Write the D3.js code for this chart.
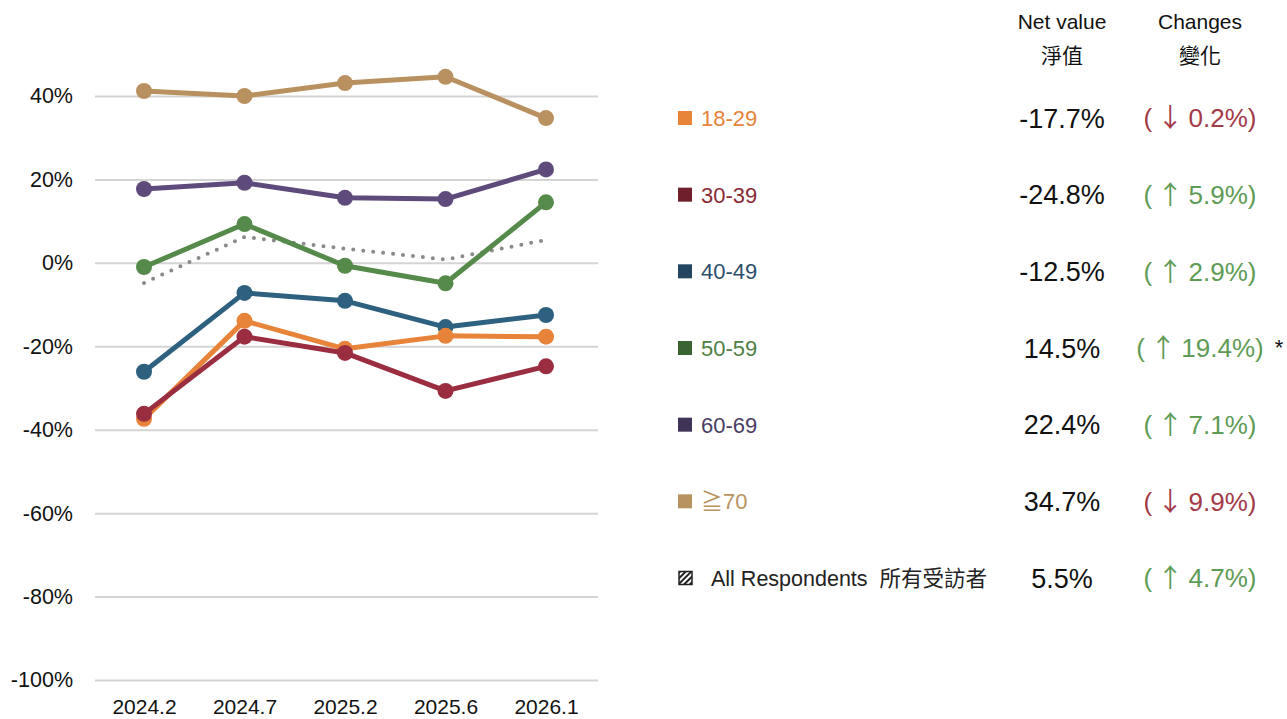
<!DOCTYPE html>
<meta charset="utf-8">
<style>
body { margin: 0; background: #fff; }
svg text { font-family: "Liberation Sans", Arial, "Noto Sans CJK TC", sans-serif; white-space: pre; }
.grid line { stroke: #d4d4d4; stroke-width: 2px; }
.grid .domain, .xaxis .domain { display: none; }
</style>
<body>
<svg width="1287" height="719"></svg>
<script src="https://d3js.org/d3.v7.min.js"></script>
<script>
var svg = d3.select("svg");

// survey waves
var periods = ["2024.2", "2024.7", "2025.2", "2025.6", "2026.1"];
var yTicks = [40, 20, 0, -20, -40, -60, -80, -100];

// net values (%) per age group
var age18 = [-37.4, -13.9, -20.6, -17.5, -17.7];
var age30 = [-36.2, -17.7, -21.6, -30.7, -24.8];
var age40 = [-26.1, -7.2, -9.1, -15.4, -12.5];
var age50 = [-1.0, 9.3, -0.7, -4.9, 14.5];
var age60 = [17.7, 19.2, 15.6, 15.3, 22.4];
var age70 = [41.2, 40.0, 43.1, 44.6, 34.7];
var allResp = [-4.8, 6.2, 3.4, 0.8, 5.5];

// legend table
var groupNames = ["18-29", "30-39", "40-49", "50-59", "60-69", "≧70"];
var netValues = ["-17.7%", "-24.8%", "-12.5%", "14.5%", "22.4%", "34.7%", "5.5%"];
var changeDir = ["down", "up", "up", "up", "up", "down", "up"];
var changeVals = ["0.2%", "5.9%", "2.9%", "19.4%", "7.1%", "9.9%", "4.7%"];

var lineColors = ["#e8833a", "#9a2e40", "#2e607f", "#558a4a", "#5f4b7b", "#b99160"];
var boxColors  = ["#e8833a", "#6e1f2a", "#23455f", "#3b6433", "#3f3357", "#b8925f"];
var textColors = ["#e8833a", "#8b2a36", "#2e4f6b", "#4f7f45", "#4a3d63", "#b8925f"];

var groups = [age18, age30, age40, age50, age60, age70];

var x = d3.scalePoint().domain(periods).range([144, 546]);
var y = d3.scaleLinear().domain([-100, 40]).range([680, 96]);

// gridlines + y labels
svg.append("g")
    .attr("class", "grid")
    .attr("transform", "translate(95,0)")
    .call(d3.axisLeft(y).tickValues(yTicks).tickSize(-503).tickPadding(22)
        .tickFormat(function(d) { return d + "%"; }))
    .selectAll("text")
    .style("font-size", "21.5px")
    .style("fill", "#111");

svg.append("g")
    .attr("class", "xaxis")
    .attr("transform", "translate(0,680)")
    .call(d3.axisBottom(x).tickSize(0).tickPadding(19))
    .selectAll("text")
    .style("font-size", "21px")
    .style("fill", "#111");

var line = d3.line()
    .x(function(d, i) { return x(periods[i]); })
    .y(function(d) { return y(d); });

// all respondents, dotted
svg.append("path")
    .attr("d", line(allResp))
    .attr("fill", "none")
    .attr("stroke", "#8a8a8a")
    .attr("stroke-width", 4)
    .attr("stroke-linecap", "round")
    .attr("stroke-dasharray", "0,10");

// draw order so 30-39 sits on top
var order = [5, 4, 3, 2, 0, 1];
order.forEach(function(gi) {
  var g = svg.append("g");
  g.append("path")
      .attr("d", line(groups[gi]))
      .attr("fill", "none")
      .attr("stroke", lineColors[gi])
      .attr("stroke-width", 5)
      .attr("stroke-linejoin", "round");
  g.selectAll("circle")
      .data(groups[gi])
      .enter().append("circle")
      .attr("cx", function(d, i) { return x(periods[i]); })
      .attr("cy", function(d) { return y(d); })
      .attr("r", 8)
      .attr("fill", lineColors[gi]);
});

// ---- legend table ----
var rowKeys = groupNames.concat(["all"]);
var row = d3.scalePoint().domain(rowKeys).range([118, 578]);

var defs = svg.append("defs");
defs.append("pattern")
    .attr("id", "hatch")
    .attr("patternUnits", "userSpaceOnUse")
    .attr("width", 4).attr("height", 4)
    .attr("patternTransform", "rotate(45)")
    .append("rect")
    .attr("width", 2).attr("height", 4)
    .attr("fill", "#222");

var head = svg.append("g").style("font-size", "21px").style("fill", "#111")
    .attr("text-anchor", "middle");
head.append("text").attr("x", 1062).attr("y", 29).text("Net value");
head.append("text").attr("x", 1062).attr("y", 63).text("淨值");
head.append("text").attr("x", 1200).attr("y", 29).text("Changes");
head.append("text").attr("x", 1200).attr("y", 63).text("變化");

groupNames.forEach(function(name, i) {
  var cy = row(name);
  svg.append("rect")
      .attr("x", 678).attr("y", cy - 7)
      .attr("width", 14).attr("height", 14)
      .attr("fill", boxColors[i]);
  svg.append("text")
      .attr("x", 701).attr("y", cy)
      .attr("dy", "0.36em")
      .style("font-size", "22px")
      .style("fill", textColors[i])
      .text(name);
});

var ay = row("all");
svg.append("rect")
    .attr("x", 679).attr("y", ay - 6.5)
    .attr("width", 13).attr("height", 13)
    .attr("fill", "url(#hatch)")
    .attr("stroke", "#222").attr("stroke-width", 1.5);
svg.append("text")
    .attr("x", 711).attr("y", ay)
    .attr("dy", "0.36em")
    .style("font-size", "21.5px")
    .style("fill", "#222")
    .text("All Respondents  所有受訪者");

rowKeys.forEach(function(k, i) {
  var cy = row(k);
  svg.append("text")
      .attr("x", 1062).attr("y", cy)
      .attr("dy", "0.36em")
      .attr("text-anchor", "middle")
      .style("font-size", "27px")
      .style("fill", "#111")
      .text(netValues[i]);
  var up = changeDir[i] === "up";
  var t = svg.append("text")
      .attr("x", 1200).attr("y", cy)
      .attr("dy", "0.36em")
      .attr("text-anchor", "middle")
      .style("font-size", "26px")
      .style("fill", up ? "#5e9b55" : "#a33a48");
  t.append("tspan").text("(\u2009");
  t.append("tspan").style("font-family", "'Noto Sans CJK TC'").text(up ? "↑" : "↓");
  t.append("tspan").text("\u2009" + changeVals[i] + ")");
});

// significance mark
svg.append("text")
    .attr("x", 1279).attr("y", row("50-59") + 7)
    .attr("text-anchor", "middle")
    .style("font-size", "22px")
    .style("fill", "#111")
    .text("*");
</script>
</body>
</html>
